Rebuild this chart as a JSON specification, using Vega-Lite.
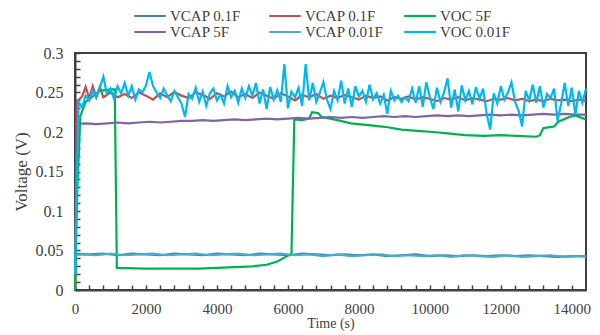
{
"$schema": "https://vega.github.io/schema/vega-lite/v6.json",
"width": 511, "height": 237,
"autosize": "none",
"padding": {"left": 75, "top": 53, "right": 14, "bottom": 45},
"background": "white",
"config": {"view": {"stroke": "#404040", "strokeWidth": 2}, "font": "Liberation Serif", "line": {"strokeWidth": 2.2, "clip": true}},
"datasets": {
"a": [
{"t":0,"v":0.046},{"t":400,"v":0.045},{"t":800,"v":0.046},{"t":1200,"v":0.044},{"t":1600,"v":0.046},{"t":2000,"v":0.045},{"t":2400,"v":0.044},{"t":2800,"v":0.046},{"t":3200,"v":0.045},{"t":3600,"v":0.044},{"t":4000,"v":0.046},{"t":4400,"v":0.045},{"t":4800,"v":0.044},{"t":5200,"v":0.046},{"t":5600,"v":0.045},{"t":6000,"v":0.044},{"t":6400,"v":0.046},{"t":6800,"v":0.045},{"t":7200,"v":0.044},{"t":7600,"v":0.045},{"t":8000,"v":0.044},{"t":8400,"v":0.045},{"t":8800,"v":0.043},{"t":9200,"v":0.044},{"t":9600,"v":0.045},{"t":10000,"v":0.043},{"t":10400,"v":0.044},{"t":10800,"v":0.043},{"t":11200,"v":0.044},{"t":11600,"v":0.043},{"t":12000,"v":0.044},{"t":12400,"v":0.043},{"t":12800,"v":0.044},{"t":13200,"v":0.043},{"t":13600,"v":0.042},{"t":14000,"v":0.043},{"t":14400,"v":0.043}
],
"b": [
{"t":0,"v":0.0},{"t":50,"v":0.238},{"t":200,"v":0.245},{"t":300,"v":0.257},{"t":400,"v":0.243},{"t":500,"v":0.258},{"t":600,"v":0.244},{"t":700,"v":0.257},{"t":800,"v":0.244},{"t":1000,"v":0.25},{"t":1200,"v":0.244},{"t":1400,"v":0.248},{"t":1600,"v":0.243},{"t":1800,"v":0.25},{"t":2000,"v":0.246},{"t":2200,"v":0.241},{"t":2400,"v":0.249},{"t":2600,"v":0.244},{"t":2800,"v":0.251},{"t":3000,"v":0.246},{"t":3200,"v":0.243},{"t":3400,"v":0.25},{"t":3600,"v":0.247},{"t":3800,"v":0.242},{"t":4000,"v":0.249},{"t":4200,"v":0.245},{"t":4400,"v":0.251},{"t":4600,"v":0.244},{"t":4800,"v":0.248},{"t":5000,"v":0.243},{"t":5200,"v":0.25},{"t":5400,"v":0.246},{"t":5600,"v":0.242},{"t":5800,"v":0.249},{"t":6000,"v":0.245},{"t":6200,"v":0.24},{"t":6400,"v":0.247},{"t":6600,"v":0.244},{"t":6800,"v":0.248},{"t":7000,"v":0.242},{"t":7200,"v":0.246},{"t":7400,"v":0.243},{"t":7600,"v":0.247},{"t":7800,"v":0.244},{"t":8000,"v":0.241},{"t":8200,"v":0.246},{"t":8400,"v":0.243},{"t":8600,"v":0.245},{"t":8800,"v":0.24},{"t":9000,"v":0.244},{"t":9200,"v":0.242},{"t":9400,"v":0.245},{"t":9600,"v":0.241},{"t":9800,"v":0.244},{"t":10000,"v":0.242},{"t":10200,"v":0.239},{"t":10400,"v":0.243},{"t":10600,"v":0.241},{"t":10800,"v":0.244},{"t":11000,"v":0.24},{"t":11200,"v":0.243},{"t":11400,"v":0.241},{"t":11600,"v":0.239},{"t":11800,"v":0.242},{"t":12000,"v":0.241},{"t":12200,"v":0.243},{"t":12400,"v":0.24},{"t":12600,"v":0.242},{"t":12800,"v":0.239},{"t":13000,"v":0.241},{"t":13200,"v":0.239},{"t":13400,"v":0.242},{"t":13600,"v":0.24},{"t":13800,"v":0.241},{"t":14000,"v":0.239},{"t":14200,"v":0.241},{"t":14400,"v":0.239}
],
"c": [
{"t":0,"v":0.0},{"t":60,"v":0.12},{"t":150,"v":0.22},{"t":300,"v":0.238},{"t":500,"v":0.245},{"t":700,"v":0.252},{"t":1000,"v":0.254},{"t":1120,"v":0.254},{"t":1180,"v":0.028},{"t":2000,"v":0.027},{"t":3000,"v":0.027},{"t":3500,"v":0.027},{"t":4000,"v":0.028},{"t":4500,"v":0.029},{"t":5000,"v":0.03},{"t":5400,"v":0.032},{"t":5700,"v":0.036},{"t":5900,"v":0.041},{"t":6100,"v":0.046},{"t":6180,"v":0.216},{"t":6400,"v":0.215},{"t":6600,"v":0.217},{"t":6680,"v":0.225},{"t":6850,"v":0.224},{"t":6950,"v":0.219},{"t":7300,"v":0.216},{"t":7780,"v":0.211},{"t":8200,"v":0.209},{"t":8730,"v":0.2066},{"t":9200,"v":0.203},{"t":9650,"v":0.2015},{"t":10100,"v":0.2},{"t":10570,"v":0.198},{"t":11000,"v":0.196},{"t":11520,"v":0.195},{"t":12000,"v":0.196},{"t":12450,"v":0.195},{"t":13000,"v":0.194},{"t":13100,"v":0.196},{"t":13200,"v":0.205},{"t":13500,"v":0.207},{"t":13620,"v":0.213},{"t":13930,"v":0.219},{"t":14100,"v":0.221},{"t":14400,"v":0.216}
],
"d": [
{"t":0,"v":0.21},{"t":300,"v":0.211},{"t":600,"v":0.21},{"t":900,"v":0.211},{"t":1200,"v":0.212},{"t":1500,"v":0.211},{"t":1800,"v":0.212},{"t":2100,"v":0.213},{"t":2400,"v":0.212},{"t":2700,"v":0.213},{"t":3000,"v":0.214},{"t":3300,"v":0.214},{"t":3600,"v":0.215},{"t":3900,"v":0.214},{"t":4200,"v":0.215},{"t":4500,"v":0.216},{"t":4800,"v":0.215},{"t":5100,"v":0.216},{"t":5400,"v":0.217},{"t":5700,"v":0.216},{"t":6000,"v":0.217},{"t":6300,"v":0.218},{"t":6600,"v":0.217},{"t":6900,"v":0.218},{"t":7200,"v":0.219},{"t":7500,"v":0.218},{"t":7800,"v":0.219},{"t":8100,"v":0.218},{"t":8400,"v":0.219},{"t":8700,"v":0.22},{"t":9000,"v":0.219},{"t":9300,"v":0.22},{"t":9600,"v":0.219},{"t":9900,"v":0.22},{"t":10200,"v":0.221},{"t":10500,"v":0.22},{"t":10800,"v":0.221},{"t":11100,"v":0.22},{"t":11400,"v":0.221},{"t":11700,"v":0.222},{"t":12000,"v":0.221},{"t":12300,"v":0.222},{"t":12600,"v":0.221},{"t":12900,"v":0.222},{"t":13200,"v":0.223},{"t":13500,"v":0.222},{"t":13800,"v":0.223},{"t":14100,"v":0.222},{"t":14400,"v":0.222}
],
"e": [
{"t":0,"v":0.044},{"t":200,"v":0.045},{"t":600,"v":0.044},{"t":1000,"v":0.046},{"t":1400,"v":0.044},{"t":1800,"v":0.045},{"t":2200,"v":0.046},{"t":2600,"v":0.044},{"t":3000,"v":0.045},{"t":3400,"v":0.046},{"t":3800,"v":0.044},{"t":4200,"v":0.045},{"t":4600,"v":0.046},{"t":5000,"v":0.044},{"t":5400,"v":0.045},{"t":5800,"v":0.046},{"t":6200,"v":0.044},{"t":6600,"v":0.045},{"t":7000,"v":0.043},{"t":7400,"v":0.045},{"t":7800,"v":0.043},{"t":8200,"v":0.044},{"t":8600,"v":0.045},{"t":9000,"v":0.043},{"t":9400,"v":0.044},{"t":9800,"v":0.043},{"t":10200,"v":0.044},{"t":10600,"v":0.042},{"t":11000,"v":0.044},{"t":11400,"v":0.043},{"t":11800,"v":0.042},{"t":12200,"v":0.044},{"t":12600,"v":0.042},{"t":13000,"v":0.043},{"t":13400,"v":0.044},{"t":13800,"v":0.042},{"t":14200,"v":0.043},{"t":14400,"v":0.042}
],
"f": [
{"t":0,"v":0.02},{"t":100,"v":0.238},{"t":200,"v":0.231},{"t":300,"v":0.246},{"t":400,"v":0.24},{"t":500,"v":0.252},{"t":600,"v":0.244},{"t":700,"v":0.256},{"t":800,"v":0.27},{"t":900,"v":0.248},{"t":1000,"v":0.255},{"t":1100,"v":0.242},{"t":1200,"v":0.258},{"t":1300,"v":0.249},{"t":1400,"v":0.262},{"t":1500,"v":0.246},{"t":1600,"v":0.258},{"t":1700,"v":0.241},{"t":1800,"v":0.254},{"t":1900,"v":0.25},{"t":2000,"v":0.259},{"t":2100,"v":0.276},{"t":2200,"v":0.258},{"t":2300,"v":0.25},{"t":2400,"v":0.243},{"t":2500,"v":0.255},{"t":2600,"v":0.246},{"t":2700,"v":0.239},{"t":2800,"v":0.252},{"t":2900,"v":0.244},{"t":3000,"v":0.236},{"t":3100,"v":0.219},{"t":3200,"v":0.248},{"t":3300,"v":0.242},{"t":3400,"v":0.256},{"t":3500,"v":0.238},{"t":3600,"v":0.251},{"t":3700,"v":0.233},{"t":3800,"v":0.249},{"t":3900,"v":0.255},{"t":4000,"v":0.24},{"t":4100,"v":0.247},{"t":4200,"v":0.236},{"t":4300,"v":0.258},{"t":4400,"v":0.244},{"t":4500,"v":0.252},{"t":4600,"v":0.237},{"t":4700,"v":0.255},{"t":4800,"v":0.243},{"t":4900,"v":0.258},{"t":5000,"v":0.246},{"t":5100,"v":0.262},{"t":5200,"v":0.236},{"t":5300,"v":0.254},{"t":5400,"v":0.229},{"t":5500,"v":0.257},{"t":5600,"v":0.241},{"t":5700,"v":0.253},{"t":5800,"v":0.238},{"t":5900,"v":0.286},{"t":6000,"v":0.23},{"t":6100,"v":0.251},{"t":6200,"v":0.244},{"t":6300,"v":0.256},{"t":6400,"v":0.233},{"t":6500,"v":0.286},{"t":6600,"v":0.24},{"t":6700,"v":0.262},{"t":6800,"v":0.238},{"t":6900,"v":0.25},{"t":7000,"v":0.263},{"t":7100,"v":0.241},{"t":7200,"v":0.229},{"t":7300,"v":0.252},{"t":7400,"v":0.24},{"t":7500,"v":0.265},{"t":7600,"v":0.236},{"t":7700,"v":0.255},{"t":7800,"v":0.232},{"t":7900,"v":0.258},{"t":8000,"v":0.245},{"t":8100,"v":0.252},{"t":8200,"v":0.238},{"t":8300,"v":0.26},{"t":8400,"v":0.241},{"t":8500,"v":0.249},{"t":8600,"v":0.236},{"t":8700,"v":0.247},{"t":8800,"v":0.223},{"t":8900,"v":0.252},{"t":9000,"v":0.24},{"t":9100,"v":0.246},{"t":9200,"v":0.238},{"t":9300,"v":0.244},{"t":9400,"v":0.239},{"t":9500,"v":0.255},{"t":9600,"v":0.237},{"t":9700,"v":0.258},{"t":9800,"v":0.232},{"t":9900,"v":0.263},{"t":10000,"v":0.244},{"t":10100,"v":0.229},{"t":10200,"v":0.256},{"t":10300,"v":0.238},{"t":10400,"v":0.25},{"t":10500,"v":0.268},{"t":10600,"v":0.231},{"t":10700,"v":0.254},{"t":10800,"v":0.226},{"t":10900,"v":0.259},{"t":11000,"v":0.24},{"t":11100,"v":0.252},{"t":11200,"v":0.235},{"t":11300,"v":0.257},{"t":11400,"v":0.242},{"t":11500,"v":0.255},{"t":11600,"v":0.223},{"t":11700,"v":0.203},{"t":11800,"v":0.249},{"t":11900,"v":0.236},{"t":12000,"v":0.258},{"t":12100,"v":0.241},{"t":12200,"v":0.25},{"t":12300,"v":0.263},{"t":12400,"v":0.238},{"t":12500,"v":0.227},{"t":12600,"v":0.207},{"t":12700,"v":0.252},{"t":12800,"v":0.24},{"t":12900,"v":0.26},{"t":13000,"v":0.237},{"t":13100,"v":0.258},{"t":13200,"v":0.231},{"t":13300,"v":0.248},{"t":13400,"v":0.243},{"t":13500,"v":0.255},{"t":13600,"v":0.214},{"t":13700,"v":0.236},{"t":13800,"v":0.262},{"t":13900,"v":0.233},{"t":14000,"v":0.256},{"t":14100,"v":0.222},{"t":14200,"v":0.252},{"t":14300,"v":0.237},{"t":14400,"v":0.255}
]
},
"encoding": {
"x": {"field": "t", "type": "quantitative", "scale": {"domain": [0, 14400], "nice": false},
  "axis": {"values": [0,400,800,1200,1600,2000,2400,2800,3200,3600,4000,4400,4800,5200,5600,6000,6400,6800,7200,7600,8000,8400,8800,9200,9600,10000,10400,10800,11200,11600,12000,12400,12800,13200,13600,14000],
    "labelExpr": "datum.value % 2000 == 0 ? datum.label : ''", "format": "d",
    "grid": false, "tickSize": -5, "tickColor": "#404040", "tickWidth": 1.5, "domainColor": "#404040", "domainWidth": 2,
    "labelFont": "Liberation Serif", "labelFontSize": 15, "labelColor": "#404040", "labelPadding": 16, "labelFlush": false,
    "title": "Time (s)", "titleFont": "Liberation Serif", "titleFontSize": 14, "titleFontWeight": "normal", "titleColor": "#404040", "titlePadding": 0}},
"y": {"field": "v", "type": "quantitative", "scale": {"domain": [0, 0.3], "nice": false},
  "axis": {"values": [0,0.01,0.02,0.03,0.04,0.05,0.06,0.07,0.08,0.09,0.1,0.11,0.12,0.13,0.14,0.15,0.16,0.17,0.18,0.19,0.2,0.21,0.22,0.23,0.24,0.25,0.26,0.27,0.28,0.29,0.3],
    "labelExpr": "abs(datum.value*20 - round(datum.value*20)) < 0.001 ? datum.label : ''", "format": ".2~f",
    "grid": false, "tickSize": -5, "tickColor": "#404040", "tickWidth": 1.5, "domainColor": "#404040", "domainWidth": 2,
    "labelFont": "Liberation Serif", "labelFontSize": 16, "labelColor": "#404040", "labelPadding": 17, "labelFlush": false,
    "title": "Voltage (V)", "titleFont": "Liberation Serif", "titleFontSize": 17, "titleFontWeight": "normal", "titleColor": "#404040", "titlePadding": 5}}
},
"layer": [
{"data": {"name": "a"}, "mark": {"type": "line"}, "encoding": {"color": {"datum": "a", "type": "nominal",
  "scale": {"domain": ["a","b","c","d","e","f"], "range": ["#4A7EBB","#C0504D","#00B050","#8064A2","#4BACC6","#00B8F0"]},
  "legend": {"orient": "none", "legendX": 58, "legendY": -45, "direction": "horizontal", "columns": 3, "gridAlign": "all", "columnPadding": 19, "rowPadding": 0, "clipHeight": 16,
    "symbolType": "stroke", "symbolSize": 1000, "symbolStrokeWidth": 2.5, "labelOffset": 3,
    "labelFont": "Liberation Serif", "labelFontSize": 15, "labelColor": "#404040", "labelLimit": 200, "title": null,
    "labelExpr": "{'a':'VCAP 0.1F','b':'VCAP 0.1F','c':'VOC 5F','d':'VCAP 5F','e':'VCAP 0.01F','f':'VOC 0.01F'}[datum.value]"}}}},
{"data": {"name": "b"}, "mark": {"type": "line"}, "encoding": {"color": {"datum": "b", "type": "nominal"}}},
{"data": {"name": "c"}, "mark": {"type": "line"}, "encoding": {"color": {"datum": "c", "type": "nominal"}}},
{"data": {"name": "d"}, "mark": {"type": "line"}, "encoding": {"color": {"datum": "d", "type": "nominal"}}},
{"data": {"name": "e"}, "mark": {"type": "line"}, "encoding": {"color": {"datum": "e", "type": "nominal"}}},
{"data": {"name": "f"}, "mark": {"type": "line"}, "encoding": {"color": {"datum": "f", "type": "nominal"}}}
]
}
